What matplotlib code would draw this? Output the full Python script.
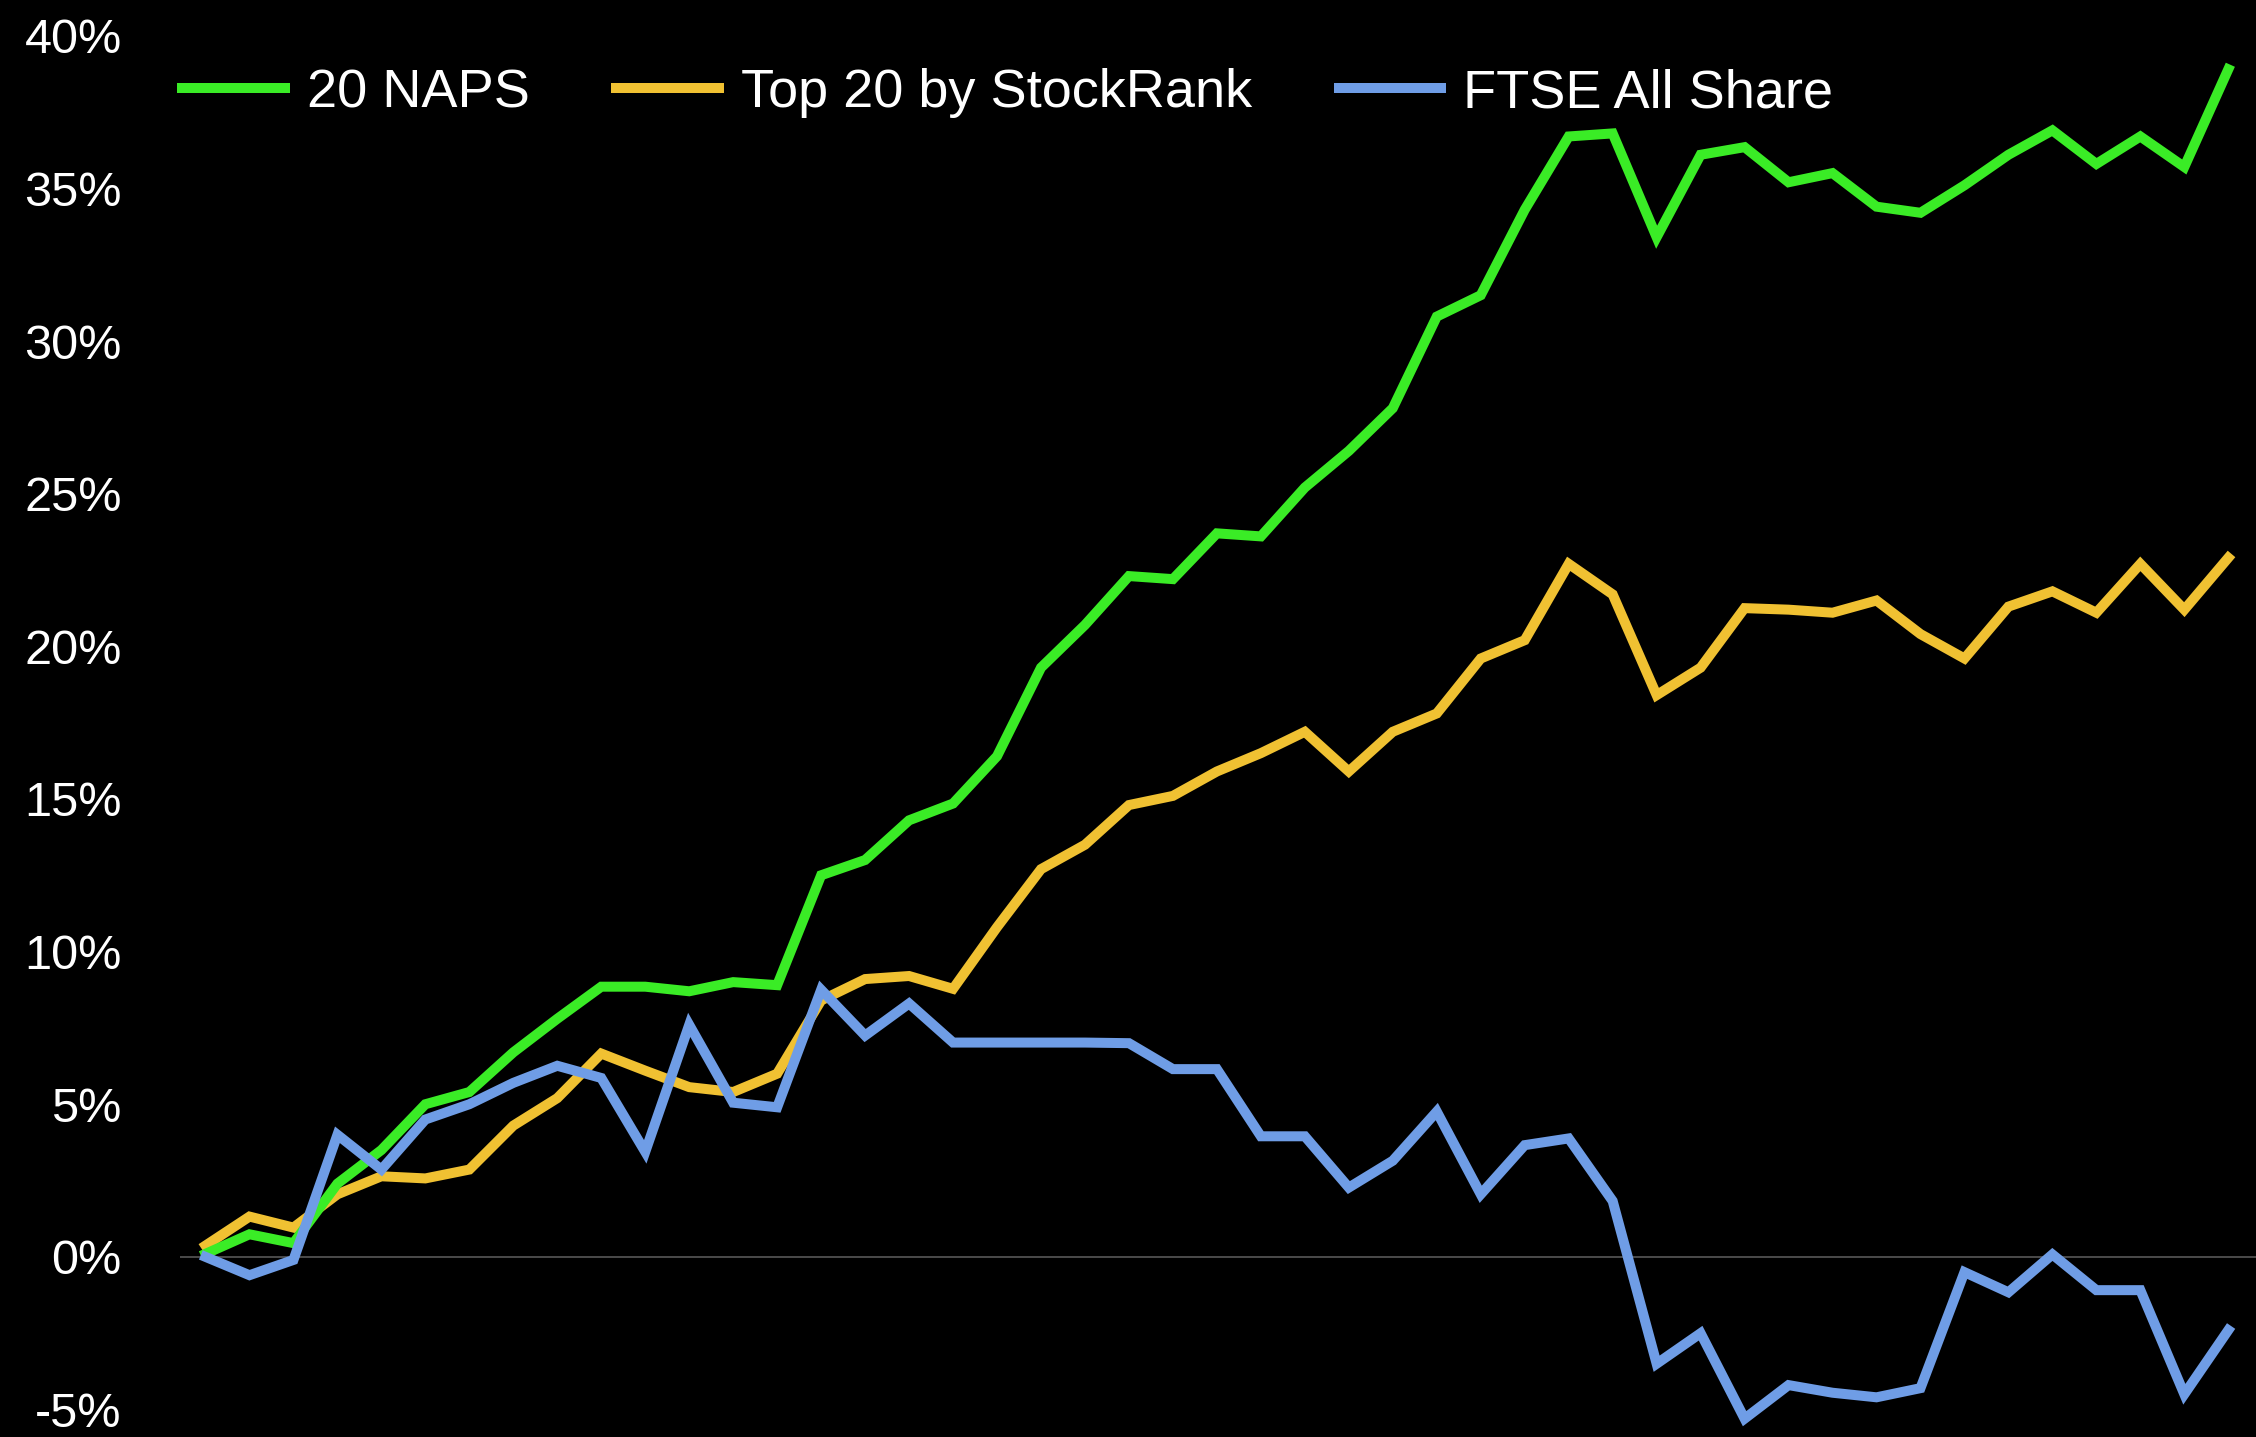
#!/usr/bin/env python
r"""Cumulative performance: 20 NAPS vs Top 20 by StockRank vs FTSE All Share."""

import numpy as np
import matplotlib as mpl
from matplotlib import pyplot as plt
from matplotlib.ticker import PercentFormatter

mpl.use("Agg")
plt.rcParams["font.family"] = ["Liberation Sans", "DejaVu Sans"]
plt.rcParams["axes.unicode_minus"] = False

labels = ["20 NAPS", "Top 20 by StockRank", "FTSE All Share"]

naps = [
    0.1, 0.74, 0.45, 2.4, 3.5, 5.0, 5.4, 6.7, 7.8, 8.85,
    8.85, 8.7, 9.0, 8.9, 12.5, 13.0, 14.3, 14.85, 16.4, 19.3,
    20.7, 22.3, 22.2, 23.7, 23.6, 25.2, 26.4, 27.8, 30.8, 31.5,
    34.3, 36.7, 36.8, 33.4, 36.1, 36.35, 35.2, 35.5, 34.4, 34.2,
    35.1, 36.1, 36.9, 35.8, 36.7, 35.7, 38.9,
]
top20 = [
    0.37, 1.32, 0.96, 2.05, 2.64, 2.57, 2.86, 4.3, 5.2, 6.66,
    6.1, 5.56, 5.4, 6.0, 8.4, 9.1, 9.2, 8.78, 10.8, 12.7,
    13.5, 14.8, 15.1, 15.9, 16.5, 17.2, 15.9, 17.2, 17.8, 19.6,
    20.2, 22.7, 21.7, 18.4, 19.3, 21.25, 21.2, 21.1, 21.5, 20.4,
    19.6, 21.3, 21.8, 21.1, 22.7, 21.2, 22.9,
]
ftse = [
    0.0, -0.6, -0.1, 4.0, 2.86, 4.5, 5.0, 5.7, 6.26, 5.86,
    3.44, 7.6, 5.05, 4.9, 8.75, 7.25, 8.3, 7.02, 7.02, 7.02,
    7.02, 7.0, 6.15, 6.15, 3.95, 3.95, 2.27, 3.15, 4.76, 2.05,
    3.66, 3.88, 1.83, -3.5, -2.5, -5.3, -4.2, -4.45, -4.6, -4.3,
    -0.5, -1.16, 0.08, -1.09, -1.09, -4.5, -2.4,
]
yticks = [-5, 0, 5, 10, 15, 20, 25, 30, 35, 40]

colors = {"naps": "#3AEC26", "top20": "#F0C132", "ftse": "#6F9DE6"}

W, H = 2256, 1437
fig = plt.figure(figsize=(W / 100, H / 100), dpi=100, facecolor="black")
ax = fig.add_axes([180 / W, 0, 1 - 180 / W, 1])
ax.set_facecolor("black")

x = np.arange(len(naps))
lw = 7.2
h_naps, = ax.plot(x, naps, color=colors["naps"], lw=lw, zorder=3,
                  solid_joinstyle="miter", label=labels[0])
h_top, = ax.plot(x, top20, color=colors["top20"], lw=lw, zorder=2,
                 solid_joinstyle="miter", label=labels[1])
h_ftse, = ax.plot(x, ftse, color=colors["ftse"], lw=lw, zorder=4,
                  solid_joinstyle="miter", label=labels[2])

ax.axhline(0, color="#505050", lw=1.3, zorder=1)

ax.set_xlim(-0.58, 46.63)
ax.set_ylim(-5.9, 41.17)
ax.set_xticks([])
ax.set_yticks(yticks)
ax.yaxis.set_major_formatter(PercentFormatter(decimals=0))
ax.tick_params(axis="y", length=0, pad=42, labelsize=35, labelcolor="white")
for s in ax.spines.values():
    s.set_visible(False)

fig.legend(
    [h_naps, h_top, h_ftse], labels,
    loc="center left", bbox_to_anchor=(182 / W, 1 - 93 / H), ncol=3,
    frameon=False, fontsize=39, labelcolor="white",
    handlelength=1.9, handletextpad=0.4, columnspacing=1.6,
    borderpad=0, borderaxespad=0,
)

fig.savefig("out.png", dpi=100, facecolor="black")
